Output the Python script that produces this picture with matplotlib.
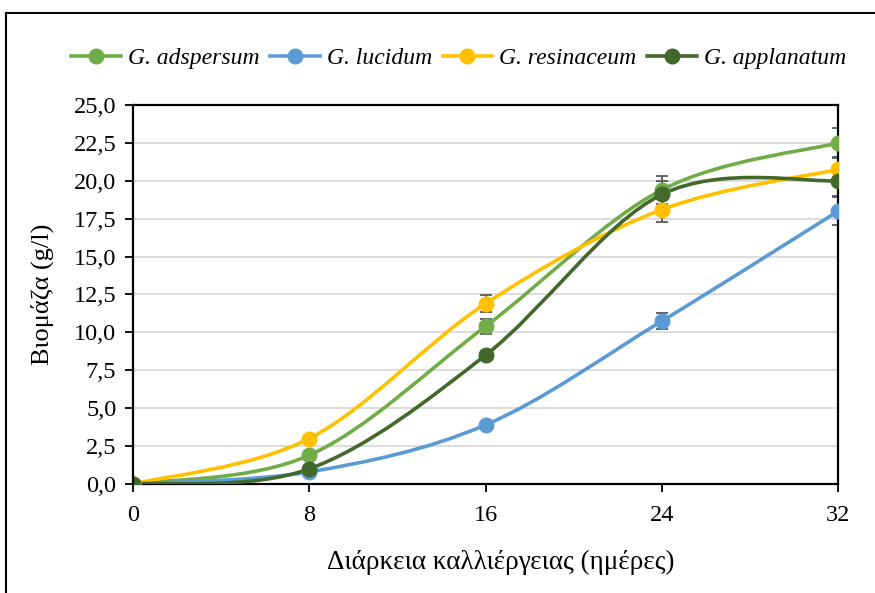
import numpy as np
import matplotlib
matplotlib.use('Agg')
import matplotlib.pyplot as plt
from matplotlib.path import Path
from matplotlib.patches import PathPatch, Rectangle
from matplotlib.lines import Line2D
from matplotlib.ticker import FuncFormatter

plt.rcParams['font.family'] = ['Liberation Serif', 'DejaVu Serif']

days = [0, 8, 16, 24, 32]
names = ['G. adspersum', 'G. lucidum', 'G. resinaceum', 'G. applanatum']
colors = ['#70AD47', '#5B9BD5', '#FFC000', '#43682B']

adspersum = [0.0, 1.9, 10.4, 19.4, 22.5]
lucidum = [0.0, 0.8, 3.9, 10.75, 18.0]
resinaceum = [0.0, 3.0, 11.9, 18.1, 20.75]
applanatum = [0.0, 1.0, 8.5, 19.1, 20.0]

adspersum_err = [0.0, 0.1, 0.5, 0.9, 1.0]
lucidum_err = [0.0, 0.05, 0.1, 0.5, 0.9]
resinaceum_err = [0.0, 0.1, 0.55, 0.85, 0.85]
applanatum_err = [0.0, 0.1, 0.3, 0.9, 1.0]

series = [adspersum, lucidum, resinaceum, applanatum]
errors = [adspersum_err, lucidum_err, resinaceum_err, applanatum_err]


def smooth_path(x, y):
    # Excel style smoothed line: Catmull-Rom segments as cubic Bezier
    p = np.column_stack([x, y]).astype(float)
    ext = np.vstack([p[0], p, p[-1]])
    verts = [p[0]]
    codes = [Path.MOVETO]
    for i in range(len(p) - 1):
        a, b, c, d = ext[i], ext[i + 1], ext[i + 2], ext[i + 3]
        verts += [b + (c - a) / 6, c - (d - b) / 6, c]
        codes += [Path.CURVE4] * 3
    return Path(verts, codes)


fig = plt.figure(figsize=(8.75, 5.93), dpi=100)
ax = fig.add_axes([0.152, 0.1838, 0.806, 0.6392])

for vals, errs, col, name in zip(series, errors, colors, names):
    ax.add_patch(PathPatch(smooth_path(days, vals), facecolor='none',
                           edgecolor=col, lw=2.6, zorder=3, capstyle='round'))
    ax.errorbar(days, vals, yerr=errs, fmt='none', ecolor='#595959',
                elinewidth=1.3, capsize=4, capthick=1.3, zorder=2)
    ax.plot(days, vals, 'o', color=col, ms=10.5, zorder=4)

ax.set_xlim(0, 32)
ax.set_ylim(0, 25)
ax.set_xticks(days)
ax.set_yticks(np.arange(0, 25.1, 2.5))
ax.yaxis.set_major_formatter(FuncFormatter(lambda v, _: f'{v:.1f}'.replace('.', ',')))
ax.grid(axis='y', color='#D9D9D9', lw=1.3)
ax.set_axisbelow(True)
for s in ax.spines.values():
    s.set_color('black')
    s.set_linewidth(1.6)
ax.spines['left'].set_zorder(5)
ax.tick_params(axis='both', direction='out', length=6, width=1.3,
               labelsize=17.5, colors='black')
ax.tick_params(axis='x', pad=9)
ax.tick_params(axis='y', pad=6)

ax.set_ylabel('Βιομάζα (g/l)', fontsize=19, labelpad=14)
ax.set_xlabel('Διάρκεια καλλιέργειας (ημέρες)', fontsize=19.5)
ax.xaxis.set_label_coords(0.522, -0.175)

handles = [Line2D([], [], color=c, lw=2.6, marker='o', ms=10.5) for c in colors]
fig.legend(handles, names, loc='center', bbox_to_anchor=(0.524, 0.902),
           ncol=4, frameon=False, prop={'style': 'italic', 'size': 17},
           handlelength=2.1, handletextpad=0.3, columnspacing=0.45)

fig.add_artist(Rectangle((6 / 875, -0.1), 1.2, 1.1 - 13 / 593,
                         transform=fig.transFigure, fill=False,
                         edgecolor='black', lw=1.5, clip_on=False))

fig.savefig('out.png', dpi=100)
